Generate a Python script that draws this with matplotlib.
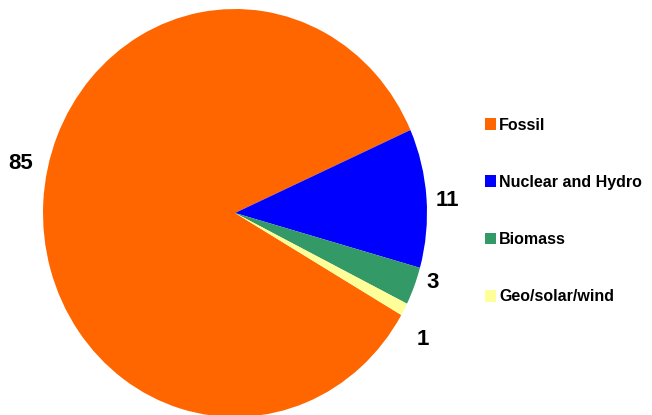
import numpy as np
import matplotlib.pyplot as plt
from matplotlib.patches import Patch

plt.rcParams["font.family"] = ["Liberation Sans", "DejaVu Sans"]

# energy share by source (%)
sources = ["Fossil", "Nuclear and Hydro", "Biomass", "Geo/solar/wind"]
shares = [85, 11, 3, 1]
colors = ["#FF6600", "#0000FF", "#339966", "#FFFF99"]

# label placement tweaks (angle nudge in degrees, radial distance)
label_nudge = [-9.2, -1.0, 2.8, -4.1]
label_dist = [1.14, 1.11, 1.085, 1.16]

fig = plt.figure(figsize=(6.52, 4.15), dpi=100)
W, H = 652, 415
# pie is drawn as an ellipse: centre (235, 213), rx 192, ry 204 pixels
ax = fig.add_axes([(235 - 192) / W, (H - 213 - 204) / H, 384 / W, 408 / H])

wedges, _ = ax.pie(shares, colors=colors, startangle=-30, counterclock=False,
                   radius=1, wedgeprops=dict(linewidth=0))
ax.set_aspect("auto")
ax.set_xlim(-1, 1)
ax.set_ylim(-1, 1)
ax.axis("off")

for w, val, nudge, dist in zip(wedges, shares, label_nudge, label_dist):
    mid = np.deg2rad((w.theta1 + w.theta2) / 2 + nudge)
    ax.text(dist * np.cos(mid), dist * np.sin(mid), str(val),
            ha="center", va="center", fontsize=16, fontweight="bold")

handles = [Patch(facecolor=c, edgecolor="none") for c in colors]
fig.legend(handles, sources, loc="center left",
           bbox_to_anchor=(485 / W, 1 - 211 / H), frameon=False,
           prop=dict(size=11.5, weight="bold"), handlelength=0.7,
           handleheight=0.75, handletextpad=0.2, labelspacing=2.65,
           borderpad=0, borderaxespad=0)

fig.savefig("out.png", dpi=100)
